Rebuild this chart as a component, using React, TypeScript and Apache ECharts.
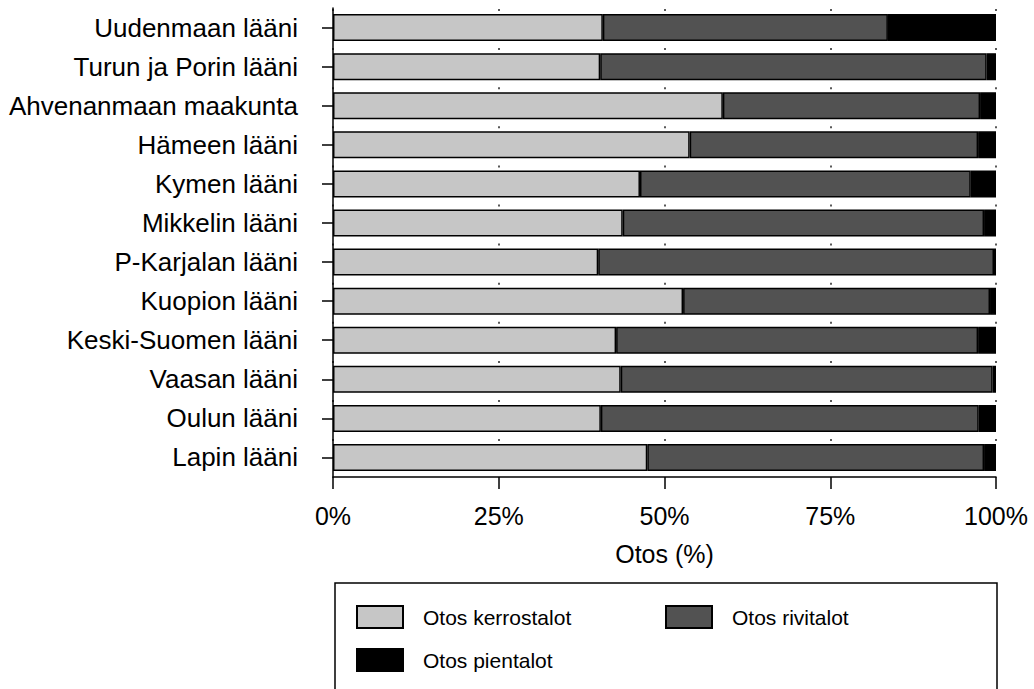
import React, { useEffect, useRef } from "react";
import * as echarts from "echarts";

const categories = [
  "Uudenmaan lääni",
  "Turun ja Porin lääni",
  "Ahvenanmaan maakunta",
  "Hämeen lääni",
  "Kymen lääni",
  "Mikkelin lääni",
  "P-Karjalan lääni",
  "Kuopion lääni",
  "Keski-Suomen lääni",
  "Vaasan lääni",
  "Oulun lääni",
  "Lapin lääni",
];

const kerrostalot = [40.7, 40.3, 58.8, 53.8, 46.3, 43.7, 40.0, 52.8, 42.7, 43.4, 40.4, 47.4];
const rivitalot = [43.0, 58.3, 38.8, 43.5, 49.9, 54.5, 59.7, 46.3, 54.6, 56.1, 57.0, 50.8];
const pientalot = [16.3, 1.4, 2.4, 2.7, 3.8, 1.8, 0.3, 0.9, 2.7, 0.5, 2.6, 1.8];

const seriesNames = ["Otos kerrostalot", "Otos rivitalot", "Otos pientalot"];
const xTicks = [0, 25, 50, 75, 100];
const axisName = "Otos (%)";

const FONT = "'Liberation Sans', Arial, Helvetica, sans-serif";

export default function App() {
  const ref = useRef<HTMLDivElement>(null);

  useEffect(() => {
    document.body.style.margin = "0";
    const chart = echarts.init(ref.current!, undefined, { renderer: "svg" });
    const colors = ["#c6c6c6", "#525252", "#000000"];
    const datasets = [kerrostalot, rivitalot, pientalot];

    const option: any = {
      animation: false,
      backgroundColor: "#ffffff",
      textStyle: { fontFamily: FONT, color: "#000" },
      grid: { left: 333, right: 38, top: 8, bottom: 212, containLabel: false },
      xAxis: {
        type: "value",
        min: xTicks[0],
        max: xTicks[xTicks.length - 1],
        interval: 25,
        name: axisName,
        nameLocation: "middle",
        nameGap: 64,
        nameTextStyle: { fontFamily: FONT, fontSize: 25, color: "#000" },
        axisLine: { show: true, lineStyle: { color: "#000", width: 1.5 } },
        axisTick: { show: true, length: 12, lineStyle: { color: "#000", width: 1.5 } },
        axisLabel: {
          fontFamily: FONT,
          fontSize: 25,
          color: "#000",
          margin: 26,
          formatter: "{value}%",
        },
        splitLine: {
          show: true,
          lineStyle: { color: "#222", width: 1.5, type: [2, 37.1], dashOffset: -1 },
        },
      },
      yAxis: {
        type: "category",
        data: categories,
        inverse: true,
        axisLine: { show: true, lineStyle: { color: "#000", width: 1.5 } },
        axisTick: {
          show: true,
          alignWithLabel: true,
          length: 11,
          lineStyle: { color: "#000", width: 1.5 },
        },
        axisLabel: { fontFamily: FONT, fontSize: 26, color: "#000", margin: 35 },
        splitLine: { show: false },
      },
      legend: seriesNames.map((n, i) => ({
        data: [n],
        left: i === 1 ? 665 : 356,
        top: i === 2 ? 648 : 605,
        icon: "rect",
        itemWidth: 46,
        itemHeight: 22,
        padding: 0,
        textStyle: {
          fontFamily: FONT,
          fontSize: 21,
          color: "#000",
          padding: [0, 0, 0, 15],
        },
        selectedMode: false,
      })),
      graphic: [
        {
          type: "rect",
          shape: { x: 335, y: 583, width: 662, height: 140 },
          style: { fill: "none", stroke: "#000", lineWidth: 1.5 },
          silent: true,
        },
      ],
      series: datasets.map((d, i) => ({
        name: seriesNames[i],
        type: "bar",
        stack: "total",
        data: d,
        barWidth: 27,
        itemStyle: { color: colors[i], borderColor: "#000", borderWidth: 1.5 },
      })),
    };

    chart.setOption(option);
    return () => chart.dispose();
  }, []);

  return <div ref={ref} style={{ width: 1034, height: 689 }} />;
}
